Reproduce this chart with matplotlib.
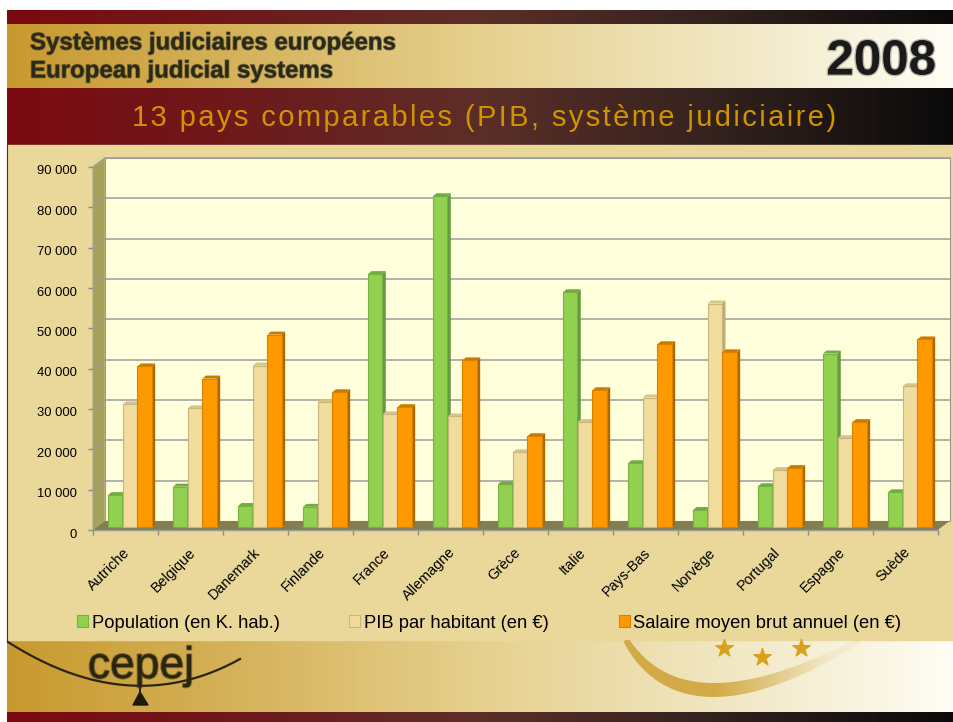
import numpy as np
import matplotlib
matplotlib.use("Agg")
import matplotlib.pyplot as plt
import matplotlib.patheffects as pe
from matplotlib.colors import LinearSegmentedColormap
from matplotlib.patches import Polygon, Patch
from matplotlib.transforms import ScaledTranslation

plt.rcParams['font.family'] = ['Liberation Sans', 'DejaVu Sans']

countries = ["Autriche", "Belgique", "Danemark", "Finlande", "France", "Allemagne", "Grèce",
             "Italie", "Pays-Bas", "Norvège", "Portugal", "Espagne", "Suède"]
population = [7900, 10000, 5200, 5000, 62700, 82000, 10600, 58200, 15800, 4200, 10100, 43000, 8600]
pib = [30400, 29400, 40000, 30900, 27900, 27400, 18500, 26000, 32100, 55400, 14100, 22000, 34900]
salaire = [39800, 36800, 47700, 33400, 29700, 41300, 22500, 33900, 45300, 43300, 14600, 26000, 46500]
series_names = ["Population (en K. hab.)", "PIB par habitant (en €)", "Salaire moyen brut annuel (en €)"]

W, H = 954, 722
fig = plt.figure(figsize=(W / 100, H / 100), dpi=100, facecolor="white")

# decoration layer, in pixels of the slide
bg = fig.add_axes([0, 0, 1, 1], zorder=0)
bg.axis("off")

red_black = LinearSegmentedColormap.from_list("rb", ["#7A0A10", "#6E1A1C", "#5C2E28", "#33221E", "#0A0A0A"])
gold_white = LinearSegmentedColormap.from_list("gw", ["#C8992E", "#D5B35C", "#E6D08E", "#F0E6C0", "#FFFDF5"])
grad = np.linspace(0, 1, 256).reshape(1, -1)


def band(y0, y1, cmap):
    bg.imshow(grad, cmap=cmap, extent=[7, W, y1, y0], aspect="auto", zorder=1)


band(10, 24, red_black)
band(24, 88, gold_white)
band(88, 145, red_black)
band(640, 712, gold_white)
band(712, 722, red_black)
bg.add_patch(plt.Rectangle((7, 145), W - 7, 495, color="#E9D89A", zorder=1))
bg.plot([7.5, 7.5], [145, 640], color="#8A1A1A", lw=0.8, zorder=2)
bg.set_xlim(0, W)
bg.set_ylim(H, 0)

blur = [pe.withStroke(linewidth=1.2, foreground="#3A3520", alpha=0.45)]
bg.text(30, 43, "Systèmes judiciaires européens", fontsize=17.3, fontweight="bold", color="#2A2A1A",
        va="center", path_effects=blur, zorder=3)
bg.text(30, 71, "European judicial systems", fontsize=17.3, fontweight="bold", color="#2A2A1A",
        va="center", path_effects=blur, zorder=3)
bg.text(936, 62, "2008", fontsize=35.5, fontweight="bold", color="#1A1A1A", ha="right", va="center",
        path_effects=[pe.withStroke(linewidth=2, foreground="#444444", alpha=0.35)], zorder=3)
bg.text(484, 118, "\u200a".join("13 pays comparables (PIB, système judiciaire)"), fontsize=21, color="#CF9400",
        ha="center", va="center", zorder=3)

# footer logo and swoosh
t = np.linspace(0, 1, 60)
bg.plot((1 - t) ** 2 * 8 + 2 * t * (1 - t) * 130 + t ** 2 * 240,
        (1 - t) ** 2 * 642 + 2 * t * (1 - t) * 720 + t ** 2 * 659, color="#2A2410", lw=1.6, zorder=3)
bg.text(141, 678, "cepej", fontsize=32, color="#2A2410", ha="center", va="baseline",
        path_effects=[pe.withStroke(linewidth=1.6, foreground="#3A3010", alpha=0.5)], zorder=4)
bg.plot([140, 140], [680, 694], color="#2A2410", lw=1.4, zorder=3)
bg.add_patch(Polygon([[140, 692], [133, 705], [148, 705]], color="#1E1A0A", zorder=3))

sx = (1 - t) ** 2 * 626 + 2 * t * (1 - t) * 685 + t ** 2 * 860
sy = (1 - t) ** 2 * 640 + 2 * t * (1 - t) * 740 + t ** 2 * 640
gx, gy = np.gradient(sx), np.gradient(sy)
norm = np.hypot(gx, gy)
thick = 3 + 4 * np.sin(np.pi * t)
outline = np.vstack([np.column_stack([sx - gy / norm * thick, sy + gx / norm * thick]),
                     np.column_stack([sx + gy / norm * thick, sy - gx / norm * thick])[::-1]])
swoosh_shape = Polygon(outline, transform=bg.transData, facecolor="none", edgecolor="none")
bg.add_patch(swoosh_shape)
swoosh_rgba = np.zeros((1, 256, 4))
swoosh_rgba[..., :3] = matplotlib.colors.to_rgb("#CFA43A")
swoosh_rgba[..., 3] = np.clip(1.6 - 1.8 * np.linspace(0, 1, 256), 0.08, 0.9)
swoosh = bg.imshow(swoosh_rgba, extent=[615, 870, 712, 640], aspect="auto", zorder=2)
swoosh.set_clip_path(swoosh_shape)
bg.scatter([724, 762, 801], [648, 657, 648], marker="*", s=170, color="#D9A11E", zorder=3)
bg.set_xlim(0, W)
bg.set_ylim(H, 0)

# chart
ax = fig.add_axes([92.7 / W, 1 - 530 / H, 845 / W, 363 / H], zorder=1)
ax.patch.set_alpha(0)
ax.set_xlim(0, 13)
ax.set_ylim(0, 90000)
px_x = 13 / 845
px_y = 90000 / 363
dx = 12 * px_x
dy = 9 * px_y

ax.add_patch(Polygon([[dx, dy], [13 + dx, dy], [13 + dx, 90000 + dy], [dx, 90000 + dy]],
                     facecolor="#FFFFDC", edgecolor="#9A9A9A", lw=0.8, clip_on=False, zorder=1))
ax.add_patch(Polygon([[0, 0], [dx, dy], [dx, 90000 + dy], [0, 90000]],
                     facecolor="#A6A25C", edgecolor="none", clip_on=False, zorder=1))
ax.add_patch(Polygon([[0, 0], [13, 0], [13 + dx, dy], [dx, dy]],
                     facecolor="#827E50", edgecolor="none", clip_on=False, zorder=1))
for v in range(10000, 100000, 10000):
    ax.plot([dx, 13 + dx], [v + dy, v + dy], color="#9C9C9C", lw=1.1, clip_on=False, zorder=2)
    ax.plot([0, dx], [v, v + dy], color="#9C9C9C", lw=0.7, clip_on=False, zorder=2)

x = np.arange(13)
base = 3 * px_y
bar_w = 14.3 * px_x
start = 0.235
cx = 3.5 * px_x
cy = 3 * px_y
values = [population, pib, salaire]
fronts = ["#92D050", "#F0DC9C", "#FF9900"]
edges = ["#79B043", "#C9B67E", "#D98200"]
sides = ["#669A40", "#BFAA72", "#AD6800"]
tops = ["#6FAE3E", "#D6C488", "#C97A00"]

for j in range(3):
    lefts = x + start + j * (bar_w + 0.4 * px_x)
    vals = np.array(values[j])
    for l, v in zip(lefts, vals):
        ax.add_patch(Polygon([[l + bar_w, base], [l + bar_w + cx, base + cy],
                              [l + bar_w + cx, base + v + cy], [l + bar_w, base + v]],
                             facecolor=sides[j], edgecolor="none", clip_on=False, zorder=3 + 2 * j))
        ax.add_patch(Polygon([[l, base + v], [l + bar_w, base + v],
                              [l + bar_w + cx, base + v + cy], [l + cx, base + v + cy]],
                             facecolor=tops[j], edgecolor="none", clip_on=False, zorder=3 + 2 * j))
    ax.bar(lefts, vals, width=bar_w, bottom=base, align="edge", color=fronts[j], edgecolor=edges[j],
           lw=0.8, zorder=4 + 2 * j)

for s in ax.spines.values():
    s.set_visible(False)
ax.plot([0, 0], [0, 90000], color="#9A9A9A", lw=1, clip_on=False, zorder=2)
ax.plot([0, 13], [0, 0], color="#9A9A9A", lw=1, clip_on=False, zorder=2)

ax.set_yticks(range(0, 100000, 10000))
ax.set_yticklabels(["0"] + [f"{v // 1000} 000" for v in range(10000, 100000, 10000)], fontsize=9.4)
ax.set_xticks(np.arange(0, 14))
ax.set_xticklabels([])
ax.tick_params(axis="both", length=3.6, color="#8C8C8C", width=1, pad=8)
ax.set_xticks(x + 0.47, minor=True)
ax.set_xticklabels(countries, minor=True, rotation=45, ha="right", rotation_mode="anchor", fontsize=10.4)
ax.tick_params(axis="x", which="minor", length=0, pad=11)
for lab in ax.get_yticklabels():
    lab.set_transform(lab.get_transform() + ScaledTranslation(0, -3 / 100, fig.dpi_scale_trans))

handles = [Patch(facecolor=fronts[i], edgecolor=edges[i], lw=0.8) for i in range(3)]
fig.legend(handles, series_names, ncol=3, frameon=False, fontsize=13.2, loc="center left",
           bbox_to_anchor=(77 / W, 1 - 623 / H), handlelength=0.6, handleheight=0.6, handletextpad=0.2,
           columnspacing=3.8, borderpad=0, borderaxespad=0)

fig.savefig("out.png", dpi=100)
